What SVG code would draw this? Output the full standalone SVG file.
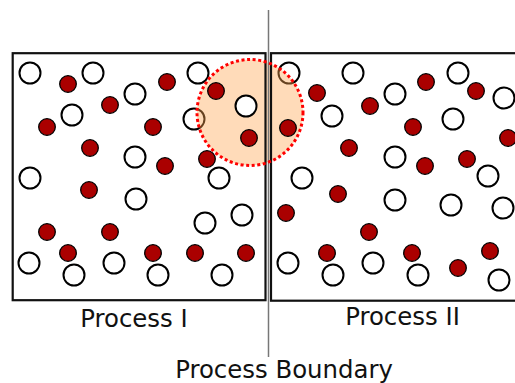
<svg xmlns="http://www.w3.org/2000/svg" width="515" height="383" viewBox="0 0 515 383">
<style>
.box{fill:none;stroke:#111;stroke-width:2.2}
.w{fill:#fff;stroke:#000;stroke-width:2}
.r{fill:#aa0000;stroke:#000;stroke-width:1.3}
.lbl{font-family:"DejaVu Sans",sans-serif;font-size:24.4px;fill:#111;text-anchor:middle}
.hl{fill:#ffa54f;fill-opacity:0.4;stroke:none}
.hls{fill:none;stroke:#ff0000;stroke-width:3;stroke-dasharray:3 2.6}
</style>
<rect width="515" height="383" fill="#fff"/>
<g id="particles-under">
<circle class="w" cx="30" cy="73" r="10.5"/>
<circle class="r" cx="68" cy="84" r="8.3"/>
<circle class="w" cx="93" cy="73" r="10.5"/>
<circle class="r" cx="110" cy="105" r="8.3"/>
<circle class="w" cx="135" cy="94" r="10.5"/>
<circle class="r" cx="167" cy="82" r="8.3"/>
<circle class="w" cx="198" cy="73" r="10.5"/>
<circle class="w" cx="72" cy="115" r="10.5"/>
<circle class="r" cx="47" cy="127" r="8.3"/>
<circle class="r" cx="90" cy="148" r="8.3"/>
<circle class="r" cx="153" cy="127" r="8.3"/>
<circle class="w" cx="194" cy="119" r="10.5"/>
<circle class="w" cx="135" cy="157" r="10.5"/>
<circle class="r" cx="165" cy="166" r="8.3"/>
<circle class="r" cx="207" cy="159" r="8.3"/>
<circle class="w" cx="219" cy="178" r="10.5"/>
<circle class="w" cx="30" cy="178" r="10.5"/>
<circle class="r" cx="89" cy="190" r="8.3"/>
<circle class="w" cx="136" cy="199" r="10.5"/>
<circle class="w" cx="205" cy="223" r="10.5"/>
<circle class="w" cx="242" cy="215" r="10.5"/>
<circle class="r" cx="47" cy="232" r="8.3"/>
<circle class="r" cx="110" cy="232" r="8.3"/>
<circle class="r" cx="68" cy="253" r="8.3"/>
<circle class="r" cx="153" cy="253" r="8.3"/>
<circle class="r" cx="195" cy="253" r="8.3"/>
<circle class="r" cx="246" cy="253" r="8.3"/>
<circle class="w" cx="29" cy="263" r="10.5"/>
<circle class="w" cx="74" cy="275" r="10.5"/>
<circle class="w" cx="114" cy="263" r="10.5"/>
<circle class="w" cx="158" cy="275" r="10.5"/>
<circle class="w" cx="222" cy="275" r="10.5"/>
<circle class="w" cx="289" cy="73" r="10.5"/>
<circle class="r" cx="317" cy="93" r="8.3"/>
<circle class="w" cx="353" cy="73" r="10.5"/>
<circle class="r" cx="370" cy="106" r="8.3"/>
<circle class="w" cx="332" cy="116" r="10.5"/>
<circle class="w" cx="395" cy="94" r="10.5"/>
<circle class="r" cx="426" cy="82" r="8.3"/>
<circle class="w" cx="458" cy="73" r="10.5"/>
<circle class="r" cx="476" cy="91" r="8.3"/>
<circle class="w" cx="504" cy="98" r="10.5"/>
<circle class="r" cx="349" cy="148" r="8.3"/>
<circle class="w" cx="453" cy="119" r="10.5"/>
<circle class="r" cx="413" cy="127" r="8.3"/>
<circle class="r" cx="508" cy="138" r="8.3"/>
<circle class="w" cx="395" cy="157" r="10.5"/>
<circle class="r" cx="425" cy="166" r="8.3"/>
<circle class="r" cx="467" cy="159" r="8.3"/>
<circle class="w" cx="488" cy="176" r="10.5"/>
<circle class="w" cx="302" cy="178" r="10.5"/>
<circle class="r" cx="338" cy="194" r="8.3"/>
<circle class="r" cx="286" cy="213" r="8.3"/>
<circle class="w" cx="395" cy="200" r="10.5"/>
<circle class="w" cx="451" cy="205" r="10.5"/>
<circle class="w" cx="503" cy="208" r="10.5"/>
<circle class="r" cx="369" cy="232" r="8.3"/>
<circle class="r" cx="327" cy="253" r="8.3"/>
<circle class="r" cx="412" cy="253" r="8.3"/>
<circle class="r" cx="490" cy="251" r="8.3"/>
<circle class="r" cx="458" cy="268" r="8.3"/>
<circle class="w" cx="288" cy="263" r="10.5"/>
<circle class="w" cx="333" cy="275" r="10.5"/>
<circle class="w" cx="373" cy="263" r="10.5"/>
<circle class="w" cx="418" cy="275" r="10.5"/>
<circle class="w" cx="499" cy="280" r="10.5"/>
</g>
<g id="highlight-fill"><circle class="hl" cx="250" cy="112.5" r="53"/></g>
<g id="process-1">
<rect class="box" x="12.7" y="53.2" width="252.8" height="247"/>
<text class="lbl" x="134" y="327">Process I</text>
</g>
<g id="process-2">
<rect class="box" x="271" y="53.2" width="262" height="247.5"/>
<text class="lbl" x="402.5" y="325">Process II</text>
</g>
<g id="particles-inside">
<circle class="r" cx="216" cy="91" r="8.3"/>
<circle class="w" cx="246" cy="106" r="10.5"/>
<circle class="r" cx="249" cy="138" r="8.3"/>
<circle class="r" cx="288" cy="128" r="8.3"/>
</g>
<g id="boundary">
<line x1="268.5" y1="10" x2="268.5" y2="357" stroke="#777" stroke-width="1.5"/>
<text class="lbl" x="284" y="377.5">Process Boundary</text>
</g>
<g id="highlight"><circle class="hls" cx="250" cy="112.5" r="53"/></g>
</svg>
